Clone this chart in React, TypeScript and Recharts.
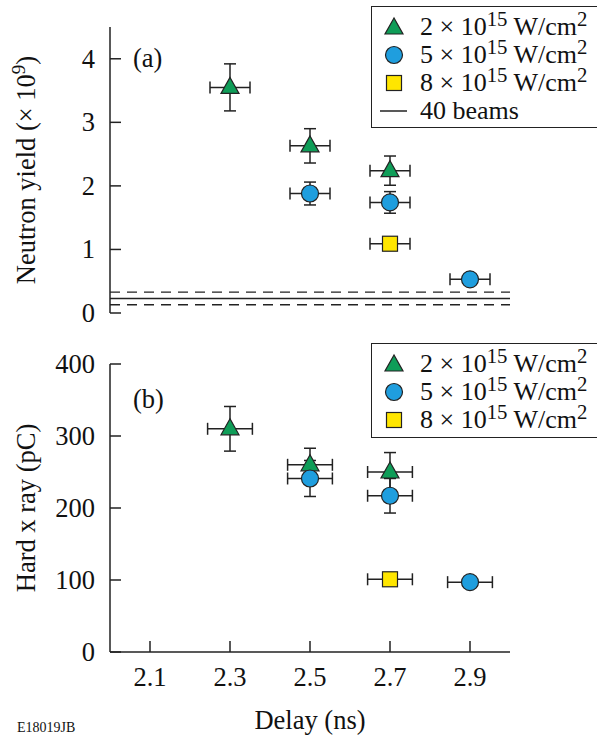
import { ScatterChart, Scatter, XAxis, YAxis, ErrorBar, ReferenceLine } from 'recharts';

const FONT = '"Liberation Serif", "Times New Roman", serif';
const INK = '#222';
const TICK = 11;
const FS = 26.5;

const GREEN = '#0f9d58';
const BLUE = '#1f9ede';
const YELLOW = '#ffe600';

// x axis (delay, ns)
const delayTicks = [2.1, 2.3, 2.5, 2.7, 2.9];
const delayDomain = [2.0, 3.0];

// series delays
const delay2 = [2.3, 2.5, 2.7];
const delay5 = [2.5, 2.7, 2.9];
const delay8 = [2.7];
const delayErrA = 0.05;
const delayErrB = 0.056;

// (a) neutron yield (x 1e9)
const yieldTicks = [0, 1, 2, 3, 4];
const yield2 = [3.55, 2.63, 2.24];
const yield2Err = [0.37, 0.27, 0.23];
const yield5 = [1.88, 1.74, 0.53];
const yield5Err = [0.18, 0.17, 0.03];
const yield8 = [1.09];
const yield8Err = [0.04];
const beamYield = 0.23;
const beamYieldBand = [0.13, 0.33];

// (b) hard x ray (pC)
const xrayTicks = [0, 100, 200, 300, 400];
const xray2 = [310, 260, 250];
const xray2Err = [31, 23, 27];
const xray5 = [241, 217, 97];
const xray5Err = [25, 24, 5];
const xray8 = [101];
const xray8Err = [4];

const rows = (xs: number[], ys: number[], es: number[], dx: number) =>
  xs.map((x, i) => ({ x, y: ys[i], ey: es[i], ex: dx }));

function Tri({ cx, cy }: any) {
  return <polygon points={`${cx},${cy - 10} ${cx - 9},${cy + 6} ${cx + 9},${cy + 6}`} fill={GREEN} stroke={INK} strokeWidth={1.2} />;
}
function Dot({ cx, cy }: any) {
  return <circle cx={cx} cy={cy} r={8.5} fill={BLUE} stroke={INK} strokeWidth={1.2} />;
}
function Sq({ cx, cy }: any) {
  return <rect x={cx - 7.5} y={cy - 7.5} width={15} height={15} fill={YELLOW} stroke={INK} strokeWidth={1.2} />;
}

function LeftTick({ x, y, payload }: any) {
  const ax = x + 14;
  return (
    <g>
      <line x1={ax} x2={ax + TICK} y1={y} y2={y} stroke={INK} strokeWidth={1.5} />
      <text x={x - 1} y={y} dy={9} textAnchor="end" fontSize={FS} fontFamily={FONT} fill="#111">
        {payload.value}
      </text>
    </g>
  );
}
function RightTick({ x, y }: any) {
  return <line x1={x} x2={x - TICK} y1={y} y2={y} stroke={INK} strokeWidth={1.5} />;
}
function TopTick({ x, y }: any) {
  return <line x1={x} x2={x} y1={y} y2={y + TICK} stroke={INK} strokeWidth={1.5} />;
}
function BottomTick({ x, y, payload, showLabel }: any) {
  return (
    <g>
      <line x1={x} x2={x} y1={y} y2={y - TICK} stroke={INK} strokeWidth={1.5} />
      {showLabel && (
        <text x={x} y={y + 34} textAnchor="middle" fontSize={FS} fontFamily={FONT} fill="#111">
          {payload.value.toFixed(1)}
        </text>
      )}
    </g>
  );
}

function YTitle({ viewBox, text, sup, rest }: any) {
  const cy = viewBox.y + viewBox.height / 2;
  return (
    <text transform={`translate(35, ${cy}) rotate(-90)`} textAnchor="middle" fontSize={FS} fontFamily={FONT} fill="#111">
      {text}
      {sup && <tspan dy={-10} fontSize={19}>{sup}</tspan>}
      {sup && <tspan dy={10}>{rest}</tspan>}
    </text>
  );
}

const axisLine = { stroke: INK, strokeWidth: 1.5 };

function Frame({ yDomain, yTicks, showX }: { yDomain: number[]; yTicks: number[]; showX: boolean }) {
  return [
    <XAxis key="xb" xAxisId="b" type="number" dataKey="x" domain={delayDomain} ticks={delayTicks} interval={0}
      allowDataOverflow height={showX ? 85 : 0} tickSize={0} tickMargin={0} axisLine={axisLine} tickLine={false}
      tick={(p: any) => <BottomTick {...p} showLabel={showX} />} />,
    <XAxis key="xt" xAxisId="t" orientation="top" type="number" domain={delayDomain} ticks={delayTicks} interval={0}
      allowDataOverflow height={0} tickSize={0} tickMargin={0} axisLine={axisLine} tickLine={false}
      tick={(p: any) => <TopTick {...p} />} />,
    <YAxis key="yl" yAxisId="l" type="number" dataKey="y" domain={yDomain} ticks={yTicks} interval={0}
      allowDataOverflow width={110} tickSize={0} tickMargin={14} axisLine={axisLine} tickLine={false}
      tick={(p: any) => <LeftTick {...p} />} />,
    <YAxis key="yr" yAxisId="r" orientation="right" type="number" domain={yDomain} ticks={yTicks} interval={0}
      allowDataOverflow width={0} tickSize={0} tickMargin={0} axisLine={axisLine} tickLine={false}
      tick={(p: any) => <RightTick {...p} />} />,
  ];
}

function LegendBox({ top, height, beams }: { top: number; height: number; beams: boolean }) {
  const sup = { fontSize: '0.8em', lineHeight: 0, verticalAlign: '0.45em' };
  const label = (n: string) => (
    <span>
      {n} × 10<span style={sup}>15</span> W/cm<span style={sup}>2</span>
    </span>
  );
  const row = (marker: any, text: any) => (
    <div style={{ display: 'flex', alignItems: 'center', height: 28 }}>
      <svg width={30} height={28} style={{ marginRight: 12 }}>{marker}</svg>
      {text}
    </div>
  );
  return (
    <div style={{
      position: 'absolute', left: 371, top, width: 250, height, boxSizing: 'border-box',
      border: `1.5px solid ${INK}`, background: '#fff', paddingTop: 6, paddingLeft: 6,
      fontFamily: FONT, fontSize: 26, color: '#111',
    }}>
      {row(<Tri cx={16} cy={15} />, label('2'))}
      {row(<Dot cx={16} cy={14} />, label('5'))}
      {row(<Sq cx={16} cy={14} />, label('8'))}
      {beams && row(<line x1={2} x2={29} y1={14} y2={14} stroke={INK} strokeWidth={1.5} />, <span>40 beams</span>)}
    </div>
  );
}

const scatterProps = { xAxisId: 'b', yAxisId: 'l', isAnimationActive: false };
const bars = [
  <ErrorBar key="ex" dataKey="ex" direction="x" width={6} stroke={INK} strokeWidth={1.5} />,
  <ErrorBar key="ey" dataKey="ey" direction="y" width={6} stroke={INK} strokeWidth={1.5} />,
];

function PanelA() {
  return (
    <ScatterChart width={597} height={330} margin={{ top: 27, right: 87, bottom: 17, left: 0 }}>
      {Frame({ yDomain: [0, 4.5], yTicks: yieldTicks, showX: false })}
      <ReferenceLine xAxisId="b" yAxisId="l" y={beamYield} stroke={INK} strokeWidth={1.5} />
      {beamYieldBand.map((v) => (
        <ReferenceLine key={v} xAxisId="b" yAxisId="l" y={v} stroke={INK} strokeWidth={1.3} strokeDasharray="10 7" />
      ))}
      <Scatter {...scatterProps} data={rows(delay2, yield2, yield2Err, delayErrA)} shape={(p: any) => <Tri {...p} />}>{bars}</Scatter>
      <Scatter {...scatterProps} data={rows(delay5, yield5, yield5Err, delayErrA)} shape={(p: any) => <Dot {...p} />}>{bars}</Scatter>
      <Scatter {...scatterProps} data={rows(delay8, yield8, yield8Err, delayErrA)} shape={(p: any) => <Sq {...p} />}>{bars}</Scatter>
    </ScatterChart>
  );
}

function PanelB() {
  return (
    <ScatterChart width={597} height={407} margin={{ top: 34, right: 87, bottom: 0, left: 0 }}>
      {Frame({ yDomain: [0, 400], yTicks: xrayTicks, showX: true })}
      <Scatter {...scatterProps} data={rows(delay2, xray2, xray2Err, delayErrB)} shape={(p: any) => <Tri {...p} />}>{bars}</Scatter>
      <Scatter {...scatterProps} data={rows(delay5, xray5, xray5Err, delayErrB)} shape={(p: any) => <Dot {...p} />}>{bars}</Scatter>
      <Scatter {...scatterProps} data={rows(delay8, xray8, xray8Err, delayErrB)} shape={(p: any) => <Sq {...p} />}>{bars}</Scatter>
    </ScatterChart>
  );
}

export default function App() {
  return (
    <div style={{ position: 'absolute', left: 0, top: 0, width: 597, height: 737, overflow: 'hidden', background: '#fff' }}>
      <div style={{ position: 'absolute', left: 0, top: 0 }}><PanelA /></div>
      <div style={{ position: 'absolute', left: 0, top: 330 }}><PanelB /></div>
      <svg style={{ position: 'absolute', left: 0, top: 0 }} width={597} height={737}>
        <YTitle viewBox={{ y: 27, height: 286 }} text="Neutron yield (× 10" sup="9" rest=")" />
        <YTitle viewBox={{ y: 364, height: 288 }} text="Hard x ray (pC)" />
        <text x={310} y={729} textAnchor="middle" fontSize={FS} fontFamily={FONT} fill="#111">Delay (ns)</text>
        <text x={133} y={67} fontSize={FS} fontFamily={FONT} fill="#111">(a)</text>
        <text x={133} y={408} fontSize={FS} fontFamily={FONT} fill="#111">(b)</text>
        <text x={17} y={732} fontSize={14} fontFamily={FONT} fill="#111">E18019JB</text>
      </svg>
      <LegendBox top={6} height={122} beams />
      <LegendBox top={343} height={95} beams={false} />
    </div>
  );
}
